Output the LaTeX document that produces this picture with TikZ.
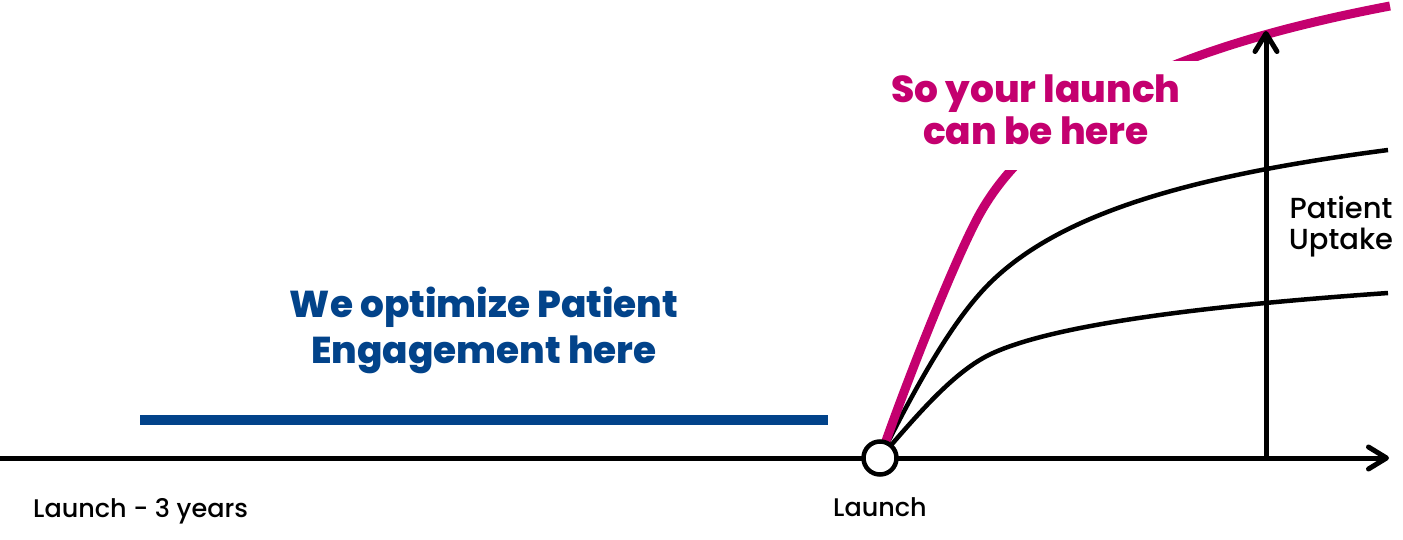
\documentclass[tikz,border=0pt]{standalone}
\usepackage{fontspec}
\setmainfont{Poppins}
\newfontfamily\heavyfont{Poppins ExtraBold}
\newfontfamily\medfont{Poppins Medium}
\usetikzlibrary{arrows.meta}
\definecolor{pblue}{HTML}{02438A}
\definecolor{pmag}{HTML}{C4006F}
\begin{document}
\begin{tikzpicture}[x=1pt,y=-1pt,
  axisline/.style={line width=5pt,-{Straight Barb[length=18pt,width=22pt,round]}},
  curveb/.style={line width=4.5pt,black},
  curvem/.style={line width=9pt,pmag},
  lbl/.style={font={\fontsize{25.5}{32}\selectfont\medfont},inner sep=0pt,text=black},
  biglbl/.style={font={\fontsize{29}{32}\selectfont\medfont},inner sep=0pt,text=black,align=center},
  bluetxt/.style={font={\fontsize{37.4}{46}\selectfont\heavyfont},inner sep=0pt,text=pblue,align=center},
  magtxt/.style={font={\fontsize{37.5}{42}\selectfont\heavyfont},inner sep=0pt,text=pmag,align=center},
  launchdot/.style={circle,draw=black,fill=white,line width=4.5pt,minimum size=33pt,inner sep=0pt}
]
\useasboundingbox (0,0) rectangle (1403,540);
% coordinates
\coordinate (axstart) at (0,458);
\coordinate (axend) at (1389,458);
\coordinate (o) at (880,458);
\coordinate (upbase) at (1266,458);
\coordinate (uptop) at (1266,31);
\coordinate (barL) at (140,420);
\coordinate (barR) at (828,420);
\coordinate (lowmid) at (993,353);
\coordinate (lowend) at (1388,293);
\coordinate (upmid) at (993,280);
\coordinate (upend) at (1388,150);
\coordinate (magmid) at (977,219);
\coordinate (magend) at (1390,6);
% time axis
\draw[axisline] (axstart) -- (axend);
% engagement bar
\draw[pblue,line width=10pt] (barL) -- (barR);
% curves
\draw[curveb] (o) .. controls (918,414) and (955,370) .. (lowmid)
                  .. controls (1053,326) and (1188,307) .. (lowend);
\draw[curveb] (o) .. controls (918,382) and (955,316) .. (upmid)
                  .. controls (1063,213.5) and (1188,176) .. (upend);
\draw[curvem] (o) .. controls (905,385.5) and (952,266.5) .. (magmid)
                  .. controls (1037,105) and (1190,44) .. (magend);
% mask behind the magenta text
\fill[white] (885,61) rectangle (1200,170);
% uptake arrow
\draw[axisline] (upbase) -- (uptop);
% launch point
\node[launchdot] (launch) at (o) {};
% texts
\node[lbl,anchor=base west] (l3) at (33,517) {Launch - 3 years};
\node[lbl,anchor=base] (l0) at (880,516) {Launch};
\node[biglbl,anchor=base] (pu) at (1341,250) {Patient\\Uptake};
\node[bluetxt,anchor=base] (bt) at (484,363) {We optimize Patient\\Engagement here};
\node[magtxt,anchor=base] (mt) at (1036,145) {So your launch\\can be here};
\end{tikzpicture}
\end{document}
